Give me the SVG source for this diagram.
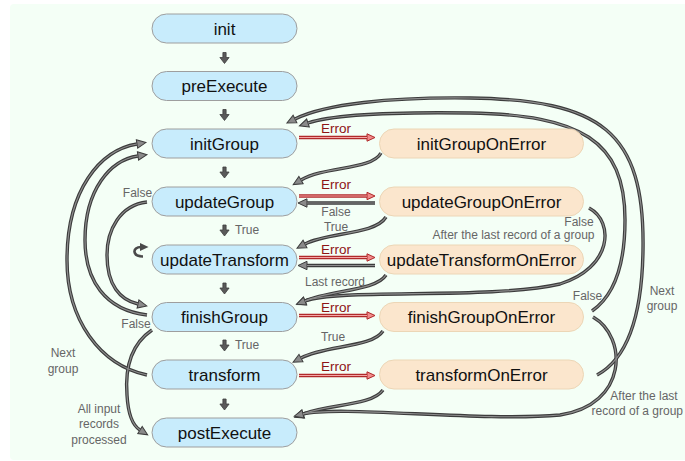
<svg xmlns="http://www.w3.org/2000/svg" xmlns:xlink="http://www.w3.org/1999/xlink" width="685" height="461" viewBox="0 0 685 461">
<style>
.bn{fill:#c8ecfc;stroke:#9e9e9e;stroke-width:1}
.on{fill:#fbe6cd;stroke:#ecd6b6;stroke-width:1}
.nt{font-family:"Liberation Sans",Arial,sans-serif;font-size:17px;fill:#111;text-anchor:middle}
.lb{font-family:"Liberation Sans",Arial,sans-serif;font-size:12px;fill:#666;text-anchor:middle}
.er{font-family:"Liberation Sans",Arial,sans-serif;font-size:13.5px;fill:#8e1414;text-anchor:middle}
.va{fill:#5a5a5a;stroke:#3c3c3c;stroke-width:0.8}
</style>
<defs>
<marker id="ga" markerWidth="12" markerHeight="12" refX="1" refY="6" orient="auto" markerUnits="userSpaceOnUse">
<path d="M1 1.8 L10 6 L1 10.2 Z" fill="#8a8a8a" stroke="#3c3c3c" stroke-width="1"/>
</marker>
<marker id="ra" markerWidth="12" markerHeight="12" refX="1" refY="6" orient="auto" markerUnits="userSpaceOnUse">
<path d="M1 2.3 L9 6 L1 9.7 Z" fill="#f08a8a" stroke="#b02a2a" stroke-width="1"/>
</marker>
<path id="varr" d="M-1.6 0 H1.6 V5 H4.6 L0 11 L-4.6 5 H-1.6 Z"/>
</defs>
<rect x="10" y="4" width="680" height="456" rx="4" fill="#f4fff6"/>

<g id="connectors">
<g id="gray-lines" fill="none" stroke="#3c3c3c" stroke-width="3.4" marker-end="url(#ga)">
<path id="c1" d="M381 153 C372 170,325 166,301 180"/>
<path id="c2" d="M386 217 C375 235,328 232,305 244"/>
<path id="c3" d="M386 275 C376 291,330 290,305 301"/>
<path id="c4" d="M589 208 C615 222,612 268,560 284 C490 300,340 288,305 301"/>
<path id="c5" d="M383 331 C372 348,325 345,301 358"/>
<path id="c6" d="M383 390 C372 406,328 404,303 414"/>
<path id="c7" d="M593 317 C628 337,628 405,560 415 C480 422,340 405,303 414"/>
<path id="c8" d="M592 311 C615 295,625 265,625 220 C625 140,580 115,470 113 C400 112,335 114,308 123"/>
<path id="c9" d="M597 375 C625 360,642 320,643 250 C645 130,600 100,470 98 C390 97,325 104,295 119"/>
<path id="c10" d="M147 375 C100 365,67 320,67 260 C67 190,100 150,137 144"/>
<path id="c11" d="M147 315 C105 310,85 280,85 240 C85 190,110 160,138 156"/>
<path id="c12" d="M147 202 C120 205,107 230,107 255 C107 285,120 300,138 304"/>
<path id="c13" d="M152 330 C130 345,125 370,127 395 C128 413,132 425,140 430"/>
<path id="b1" d="M375 203 H307"/>
<path id="b2" d="M375 265.5 H307"/>
</g>
<g fill="none" stroke="#8e8e8e" stroke-width="1.2">
<use xlink:href="#c1"/><use xlink:href="#c2"/><use xlink:href="#c3"/><use xlink:href="#c4"/>
<use xlink:href="#c5"/><use xlink:href="#c6"/><use xlink:href="#c7"/><use xlink:href="#c8"/>
<use xlink:href="#c9"/><use xlink:href="#c10"/><use xlink:href="#c11"/><use xlink:href="#c12"/>
<use xlink:href="#c13"/><use xlink:href="#b1"/><use xlink:href="#b2"/>
</g>
<g id="error-lines" fill="none" stroke="#b02a2a" stroke-width="3.4" marker-end="url(#ra)">
<path id="e1" d="M299 137.5 H367"/>
<path id="e2" d="M299 196 H367"/>
<path id="e3" d="M299 257.5 H367"/>
<path id="e4" d="M299 315.5 H367"/>
<path id="e5" d="M299 375.5 H367"/>
</g>
<g fill="none" stroke="#f5a5a5" stroke-width="1.2">
<use xlink:href="#e1"/><use xlink:href="#e2"/><use xlink:href="#e3"/><use xlink:href="#e4"/><use xlink:href="#e5"/>
</g>
<g id="down-arrows" class="va">
<use xlink:href="#varr" x="224.5" y="52.5"/>
<use xlink:href="#varr" x="224.5" y="109.5"/>
<use xlink:href="#varr" x="224.5" y="167"/>
<use xlink:href="#varr" x="224.5" y="225"/>
<use xlink:href="#varr" x="224.5" y="283"/>
<use xlink:href="#varr" x="224.5" y="340"/>
<use xlink:href="#varr" x="224.5" y="399"/>
</g>
<g id="loop">
<path d="M143 256.5 C132 256.5,132 247,141 247" fill="none" stroke="#4a4a4a" stroke-width="2.6"/>
<path d="M140 243 L148.5 247 L140 251 Z" fill="#4a4a4a"/>
</g>
<g id="edge-labels">
<text class="er" x="336" y="132.5">Error</text>
<text class="er" x="336" y="189">Error</text>
<text class="er" x="336" y="254">Error</text>
<text class="er" x="336" y="311.5">Error</text>
<text class="er" x="336" y="371">Error</text>
<text class="lb" x="336" y="216">False</text>
<text class="lb" x="336" y="231">True</text>
<text class="lb" x="335" y="286">Last record</text>
<text class="lb" x="333" y="341">True</text>
<text class="lb" x="247" y="233.5">True</text>
<text class="lb" x="247" y="348.5">True</text>
<text class="lb" x="137.5" y="196.5">False</text>
<text class="lb" x="136" y="328">False</text>
<text class="lb" x="579" y="226">False</text>
<text class="lb" x="513.5" y="238.5">After the last record of a group</text>
<text class="lb" x="587.5" y="299.5">False</text>
<text class="lb" x="662" y="295">Next</text>
<text class="lb" x="662" y="310">group</text>
<text class="lb" x="644" y="399.5">After the last</text>
<text class="lb" x="683" y="414.5" style="text-anchor:end">record of a group</text>
<text class="lb" x="63" y="357">Next</text>
<text class="lb" x="63" y="372.5">group</text>
<text class="lb" x="99" y="412.5">All input</text>
<text class="lb" x="99" y="428">records</text>
<text class="lb" x="99" y="443.5">processed</text>
</g>
</g>

<g id="init"><rect class="bn" x="152" y="14" width="145" height="29" rx="14.5"/><text class="nt" x="224.5" y="34.5">init</text></g>
<g id="preExecute"><rect class="bn" x="152" y="71.5" width="145" height="29" rx="14.5"/><text class="nt" x="224.5" y="92">preExecute</text></g>
<g id="initGroup"><rect class="bn" x="152" y="129" width="145" height="29" rx="14.5"/><text class="nt" x="224.5" y="149.5">initGroup</text></g>
<g id="updateGroup"><rect class="bn" x="152" y="187" width="145" height="29" rx="14.5"/><text class="nt" x="224.5" y="207.5">updateGroup</text></g>
<g id="updateTransform"><rect class="bn" x="152" y="245" width="145" height="29" rx="14.5"/><text class="nt" x="224.5" y="265.5">updateTransform</text></g>
<g id="finishGroup"><rect class="bn" x="152" y="302.5" width="145" height="29" rx="14.5"/><text class="nt" x="224.5" y="323">finishGroup</text></g>
<g id="transform"><rect class="bn" x="152" y="360" width="145" height="29" rx="14.5"/><text class="nt" x="224.5" y="380.5">transform</text></g>
<g id="postExecute"><rect class="bn" x="152" y="418" width="145" height="29" rx="14.5"/><text class="nt" x="224.5" y="438.5">postExecute</text></g>

<g id="initGroupOnError"><rect class="on" x="379.5" y="129" width="204" height="29" rx="14.5"/><text class="nt" x="481.5" y="149.5">initGroupOnError</text></g>
<g id="updateGroupOnError"><rect class="on" x="379.5" y="187" width="204" height="29" rx="14.5"/><text class="nt" x="481.5" y="207.5">updateGroupOnError</text></g>
<g id="updateTransformOnError"><rect class="on" x="379.5" y="245" width="204" height="29" rx="14.5"/><text class="nt" x="481.5" y="265.5">updateTransformOnError</text></g>
<g id="finishGroupOnError"><rect class="on" x="379.5" y="302.5" width="204" height="29" rx="14.5"/><text class="nt" x="481.5" y="323">finishGroupOnError</text></g>
<g id="transformOnError"><rect class="on" x="379.5" y="360" width="204" height="29" rx="14.5"/><text class="nt" x="481.5" y="380.5">transformOnError</text></g>
</svg>
